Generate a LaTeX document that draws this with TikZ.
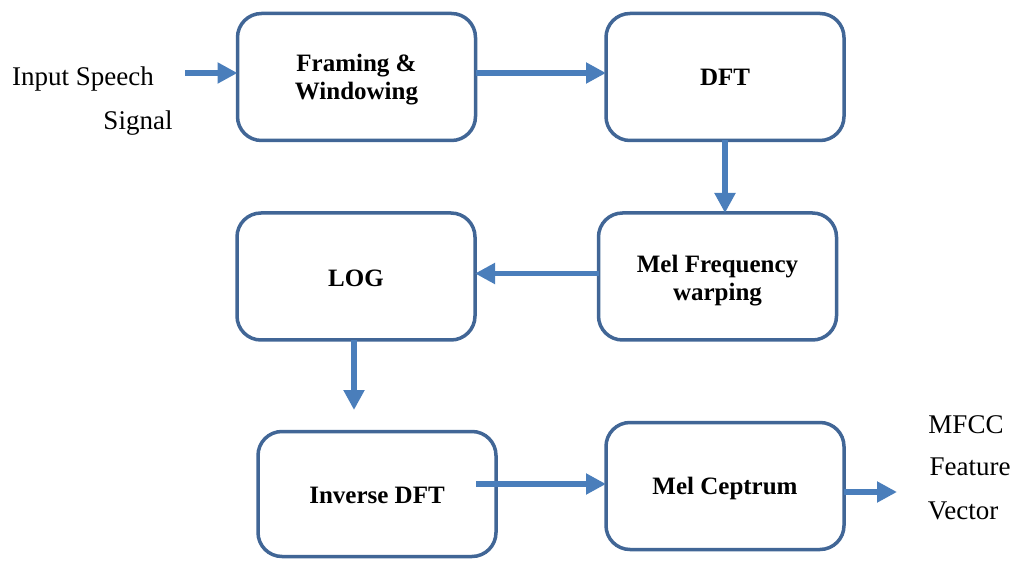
\documentclass[tikz,border=0pt]{standalone}
\usepackage{fontspec}
\setmainfont{Liberation Serif}
\usetikzlibrary{arrows.meta}
\definecolor{boxblue}{RGB}{65,102,150}
\definecolor{arrblue}{RGB}{74,126,187}
\tikzset{
  stage/.style={draw=boxblue, line width=3.5pt, fill=white, rounded corners=24pt,
    minimum width=238pt, minimum height=127pt, outer sep=0pt},
  stagetext/.style={align=center, inner sep=0pt,
    font=\fontsize{25}{28}\selectfont\bfseries},
  arr/.style={draw=arrblue, line width=5.5pt, -{Triangle[length=20pt,width=20pt]}},
  lbl/.style={font=\fontsize{27}{30}\selectfont, inner sep=0pt}
}
\begin{document}
\begin{tikzpicture}[x=1pt,y=-1pt]
\useasboundingbox (0,0) rectangle (1015,561);
\node[stage] (b1) at (356.5,77) {};
\node[stage] (dft) at (725,77) {};
\node[stage] (mel) at (717.5,276.5) {};
\node[stage] (log) at (356,276.5) {};
\node[stage, minimum height=125pt] (inv) at (377,494) {};
\node[stage] (melc) at (725,486) {};

\node[stagetext] (b1t) at ([yshift=-3pt]b1.center) {Framing \&\\Windowing};
\node[stagetext] (dftt) at (dft.center) {DFT};
\node[stagetext] (melt) at ([yshift=-4pt]mel.center) {Mel Frequency\\warping};
\node[stagetext] (logt) at ([yshift=-2pt]log.center) {LOG};
\node[stagetext] (invt) at ([yshift=-1pt]inv.center) {Inverse DFT};
\node[stagetext] (melct) at ([yshift=-2pt]melc.center) {Mel Ceptrum};

\node[lbl] (in1) at (83,79) {Input Speech};
\node[lbl] (in2) at (138,123) {Signal};
\node[lbl] (o1) at (966,425) {MFCC};
\node[lbl] (o2) at (970,467) {Feature};
\node[lbl] (o3) at (963,511) {Vector};

\coordinate (inS) at (185,73);
\coordinate (logE) at (354,410);
\coordinate (invS) at (476,484);
\coordinate (outE) at (897,492);

\draw[arr] (inS) -- (inS -| b1.west);
\draw[arr] ([yshift=4pt]b1.east) -- ([yshift=4pt]dft.west);
\draw[arr] (dft.south) -- (dft.south |- mel.north);
\draw[arr] ([yshift=3pt]mel.west) -- ([yshift=3pt]log.east);
\draw[arr] (logE |- log.south) -- (logE);
\draw[arr] (invS) -- (invS -| melc.west);
\draw[arr] (outE -| melc.east) -- (outE);
\end{tikzpicture}
\end{document}
